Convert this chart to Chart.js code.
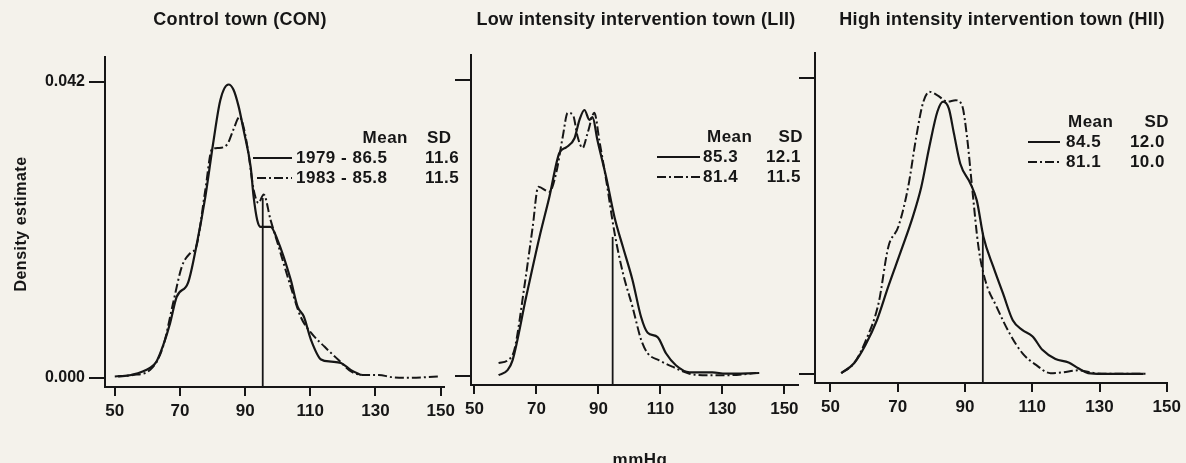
<!DOCTYPE html>
<html>
<head>
<meta charset="utf-8">
<script src="https://cdn.jsdelivr.net/npm/chart.js@4.4.0/dist/chart.umd.min.js"></script>
<style>
  body { margin: 0; background: #f4f2eb; width: 1186px; height: 463px; overflow: hidden; position: relative; }
  canvas { position: absolute; top: 0; }
</style>
</head>
<body>
<canvas id="con" width="460" height="463" style="left:0px"></canvas>
<canvas id="lii" width="410" height="463" style="left:400px"></canvas>
<canvas id="hii" width="426" height="463" style="left:760px"></canvas>
<script>
// tick values
const xTicks = [50, 70, 90, 110, 130, 150];
const yTicks = [0, 0.042];

// Control town (CON): mmHg / density estimate
const conX1979 = [51, 55, 60.8, 62.8, 65, 67, 69, 72.5, 75, 77.8, 80.2, 82.4, 84.9, 86.4, 88, 89.5, 91.7, 92.6, 93.7, 94.8, 97.8, 99.9, 104, 106.1, 108, 110.2, 113.3, 116.4, 119.4, 122.5, 125.6];
const conY1979 = [0.0002, 0.0004, 0.0014, 0.0023, 0.0048, 0.0078, 0.0115, 0.0135, 0.0186, 0.0257, 0.0333, 0.0394, 0.0416, 0.0409, 0.0385, 0.0352, 0.0299, 0.0257, 0.0224, 0.0214, 0.0214, 0.0196, 0.0139, 0.0101, 0.0087, 0.0054, 0.0026, 0.0023, 0.0021, 0.0011, 0.0004];
const conX1983 = [50, 55.6, 60.8, 64.8, 67.9, 70.6, 73.2, 75, 77.8, 79.8, 81.8, 84.5, 86.4, 88.3, 89.5, 91, 92.6, 94.1, 95.7, 97.8, 99.9, 104, 107, 110.2, 114.4, 118.5, 122.5, 126.6, 131, 135, 140, 149.4];
const conY1983 = [0.0002, 0.0004, 0.0011, 0.0044, 0.0106, 0.0158, 0.0177, 0.0186, 0.0267, 0.0324, 0.0326, 0.0331, 0.0352, 0.0370, 0.0356, 0.0319, 0.0267, 0.0248, 0.0260, 0.0224, 0.0192, 0.0129, 0.0087, 0.0064, 0.0044, 0.0026, 0.0009, 0.0004, 0.0004, 0.0001, 0.0000, 0.0002];
const conCut = [95.4, 0.0255];

// Low intensity intervention town (LII)
const liiX1979 = [57.8, 60.7, 62.3, 66.7, 71, 74.2, 77.4, 79.6, 82.3, 83.9, 85.5, 87.1, 88.1, 89.7, 92.5, 95.2, 97.9, 101, 103.8, 105.9, 109.1, 111.8, 115, 119.4, 126.8, 131, 141.9];
const liiY1979 = [0.0001, 0.0008, 0.0022, 0.0112, 0.0197, 0.0254, 0.0316, 0.0324, 0.0337, 0.0363, 0.0377, 0.0363, 0.0367, 0.0334, 0.0282, 0.0225, 0.0183, 0.0136, 0.0083, 0.0061, 0.0055, 0.0032, 0.0015, 0.0005, 0.0005, 0.0003, 0.0004];
const liiX1983 = [57.8, 60.7, 62.9, 66.1, 68.8, 70.6, 74.2, 76.4, 78.5, 80.1, 81.8, 83.3, 84.9, 86.5, 88.7, 90.3, 92.5, 95.2, 97.9, 101, 103.8, 105.9, 109.6, 113.9, 119.4, 125.8, 132.3, 140.9];
const liiY1983 = [0.0018, 0.0022, 0.0037, 0.0126, 0.0211, 0.0268, 0.0261, 0.0288, 0.0339, 0.0373, 0.0370, 0.0339, 0.0323, 0.0344, 0.0373, 0.0334, 0.0278, 0.0203, 0.0146, 0.0098, 0.0051, 0.0032, 0.0022, 0.0013, 0.0003, 0.0001, 0.0001, 0.0004];
const liiCut = [94.6, 0.0197];

// High intensity intervention town (HII)
const hiiX1979 = [53.2, 57, 60.4, 63.8, 67.2, 71.1, 74.5, 77, 79.4, 81.8, 83.5, 85.2, 86.7, 88.6, 91.6, 93.5, 95.5, 98.4, 101.3, 104.2, 107.1, 110.1, 113, 116.9, 120.8, 123.7, 126.6, 130.5, 143.1];
const hiiY1979 = [0.0001, 0.0015, 0.0041, 0.0076, 0.0124, 0.0176, 0.0223, 0.0265, 0.0322, 0.0372, 0.0386, 0.0376, 0.0341, 0.0298, 0.0270, 0.0246, 0.0194, 0.0152, 0.0114, 0.0076, 0.0062, 0.0053, 0.0034, 0.0021, 0.0016, 0.0008, 0.0001, 0.0000, 0.0000];
const hiiX1983 = [53.2, 57, 60.4, 64.3, 67.2, 70.2, 73.1, 75.5, 77.5, 79.4, 81.8, 84.8, 87.2, 89.1, 90.6, 92.1, 94, 96, 99.4, 103.3, 107.1, 111, 115.4, 118.8, 123.7, 128.5, 134.4, 144.1];
const hiiY1983 = [0.0001, 0.0015, 0.0046, 0.0100, 0.0180, 0.0209, 0.0265, 0.0336, 0.0384, 0.0400, 0.0395, 0.0386, 0.0388, 0.0381, 0.0336, 0.0265, 0.0180, 0.0133, 0.0095, 0.0057, 0.0029, 0.0013, 0.0001, 0.0002, 0.0005, 0.0001, 0.0000, 0.0000];
const hiiCut = [95.3, 0.0200];

// legend table text
const conYears = ['1979 - ', '1983 - '];
const conMeans = ['86.5', '85.8'];
const conSDs = ['11.6', '11.5'];
const liiMeans = ['85.3', '81.4'];
const liiSDs = ['12.1', '11.5'];
const hiiMeans = ['84.5', '81.1'];
const hiiSDs = ['12.0', '10.0'];

const ink = '#161616';
const fam = '"Liberation Sans", Arial, Helvetica, sans-serif';
const yMin = -0.0013, yMax = 0.0455;
const dashDot = [9, 3, 2, 3];

const toPoints = (xs, ys) => xs.map((x, i) => ({ x: x, y: ys[i] }));

// titles, legend table and axis titles drawn on top of each panel
const panelText = {
    id: 'panelText',
    afterDraw(chart, args, o) {
        const ctx = chart.ctx;
        const off = o.left;
        ctx.save();
        ctx.fillStyle = ink;
        ctx.strokeStyle = ink;

        // panel title
        ctx.font = 'bold 18px ' + fam;
        ctx.letterSpacing = '0.3px';
        ctx.textAlign = 'center';
        ctx.textBaseline = 'middle';
        ctx.fillText(o.title, o.titleX - off, 20);

        // Mean / SD table
        const lg = o.legend;
        ctx.font = 'bold 17px ' + fam;
        ctx.letterSpacing = '0.5px';
        ctx.textAlign = lg.meanHeadAlign;
        ctx.fillText('Mean', lg.meanHeadX - off, lg.headY);
        ctx.textAlign = lg.sdAlign;
        ctx.fillText('SD', lg.sdHeadX - off, lg.headY);
        lg.rows.forEach((y, i) => {
            ctx.textAlign = 'left';
            ctx.fillText(lg.labels[i], lg.textX - off, y);
            ctx.textAlign = lg.sdAlign;
            ctx.fillText(lg.sds[i], lg.sdX - off, y);
            ctx.beginPath();
            ctx.lineWidth = 2;
            ctx.setLineDash(i === 0 ? [] : dashDot);
            ctx.moveTo(lg.lineX[i][0] - off, y);
            ctx.lineTo(lg.lineX[i][1] - off, y);
            ctx.stroke();
        });
        ctx.setLineDash([]);

        if (o.yTitle) {
            ctx.save();
            ctx.font = 'bold 16px ' + fam;
            ctx.letterSpacing = '0.5px';
            ctx.translate(22, 224);
            ctx.rotate(-Math.PI / 2);
            ctx.textAlign = 'center';
            ctx.fillText(o.yTitle, 0, 0);
            ctx.restore();
        }
        if (o.xTitle) {
            ctx.font = 'bold 17px ' + fam;
            ctx.letterSpacing = '0.5px';
            ctx.textAlign = 'center';
            ctx.textBaseline = 'alphabetic';
            ctx.fillText(o.xTitle, 640 - off, 465);
        }
        ctx.restore();
    }
};

function makePanel(id, p) {
    const ctx = document.getElementById(id).getContext('2d');
    return new Chart(ctx, {
        type: 'line',
        data: {
            datasets: [{
                label: '1979',
                data: toPoints(p.x79, p.y79),
                borderColor: ink,
                borderWidth: 2.2,
                pointRadius: 0,
                cubicInterpolationMode: 'monotone'
            }, {
                label: '1983',
                data: toPoints(p.x83, p.y83),
                borderColor: ink,
                borderWidth: 2,
                borderDash: dashDot,
                pointRadius: 0,
                cubicInterpolationMode: 'monotone'
            }, {
                label: 'cut',
                data: [{ x: p.cut[0], y: yMin }, { x: p.cut[0], y: p.cut[1] }],
                borderColor: ink,
                borderWidth: 1.8,
                pointRadius: 0,
                tension: 0
            }]
        },
        options: {
            responsive: false,
            animation: false,
            devicePixelRatio: 1,
            layout: { padding: { left: 0, top: p.top, right: p.right, bottom: 0 } },
            plugins: {
                legend: { display: false },
                tooltip: { enabled: false },
                panelText: p.text
            },
            scales: {
                x: {
                    type: 'linear',
                    min: p.xMin,
                    max: p.xMax,
                    afterBuildTicks: s => { s.ticks = xTicks.map(v => ({ value: v })); },
                    afterFit: s => { s.height = p.xHeight; },
                    border: { display: true, color: ink, width: 2 },
                    grid: { drawOnChartArea: false, drawTicks: true, tickLength: 9, color: ink, lineWidth: 2 },
                    ticks: { color: ink, padding: 5, maxRotation: 0, autoSkip: false, font: { family: fam, size: 17, weight: 'bold' } }
                },
                y: {
                    min: yMin,
                    max: yMax,
                    afterBuildTicks: s => { s.ticks = yTicks.map(v => ({ value: v })); },
                    afterFit: s => { s.width = p.yWidth; },
                    border: { display: true, color: ink, width: 2 },
                    grid: { drawOnChartArea: false, drawTicks: true, tickLength: 16, color: ink, lineWidth: 2 },
                    ticks: {
                        color: ink,
                        padding: 4,
                        font: { family: fam, size: 16, weight: 'bold' },
                        callback: v => p.yLabels ? v.toFixed(3) : ''
                    }
                }
            }
        },
        plugins: [panelText]
    });
}

makePanel('con', {
    x79: conX1979, y79: conY1979, x83: conX1983, y83: conY1983, cut: conCut,
    xMin: 47, xMax: 151, top: 57, right: 16, xHeight: 76, yWidth: 105, yLabels: true,
    text: {
        left: 0, title: 'Control town (CON)', titleX: 240, yTitle: 'Density estimate',
        legend: {
            headY: 138, meanHeadX: 408, meanHeadAlign: 'right', sdHeadX: 427, sdAlign: 'left',
            rows: [158, 178], textX: 296, sdX: 425,
            lineX: [[253, 292], [257, 292]],
            labels: conYears.map((y, i) => y + conMeans[i]), sds: conSDs
        }
    }
});

makePanel('lii', {
    x79: liiX1979, y79: liiY1979, x83: liiX1983, y83: liiY1983, cut: liiCut,
    xMin: 48.9, xMax: 154.4, top: 55, right: 12, xHeight: 78, yWidth: 71, yLabels: false,
    text: {
        left: 400, title: 'Low intensity intervention town (LII)', titleX: 636, xTitle: 'mmHg',
        legend: {
            headY: 137, meanHeadX: 707, meanHeadAlign: 'left', sdHeadX: 803, sdAlign: 'right',
            rows: [157, 177], textX: 703, sdX: 801,
            lineX: [[657, 700], [657, 700]],
            labels: liiMeans, sds: liiSDs
        }
    }
});

makePanel('hii', {
    x79: hiiX1979, y79: hiiY1979, x83: hiiX1983, y83: hiiY1983, cut: hiiCut,
    xMin: 45.4, xMax: 150.1, top: 53, right: 12, xHeight: 80, yWidth: 55, yLabels: false,
    text: {
        left: 760, title: 'High intensity intervention town (HII)', titleX: 1002,
        legend: {
            headY: 122, meanHeadX: 1068, meanHeadAlign: 'left', sdHeadX: 1169, sdAlign: 'right',
            rows: [142, 162], textX: 1066, sdX: 1165,
            lineX: [[1028, 1060], [1028, 1060]],
            labels: hiiMeans, sds: hiiSDs
        }
    }
});
</script>
</body>
</html>
